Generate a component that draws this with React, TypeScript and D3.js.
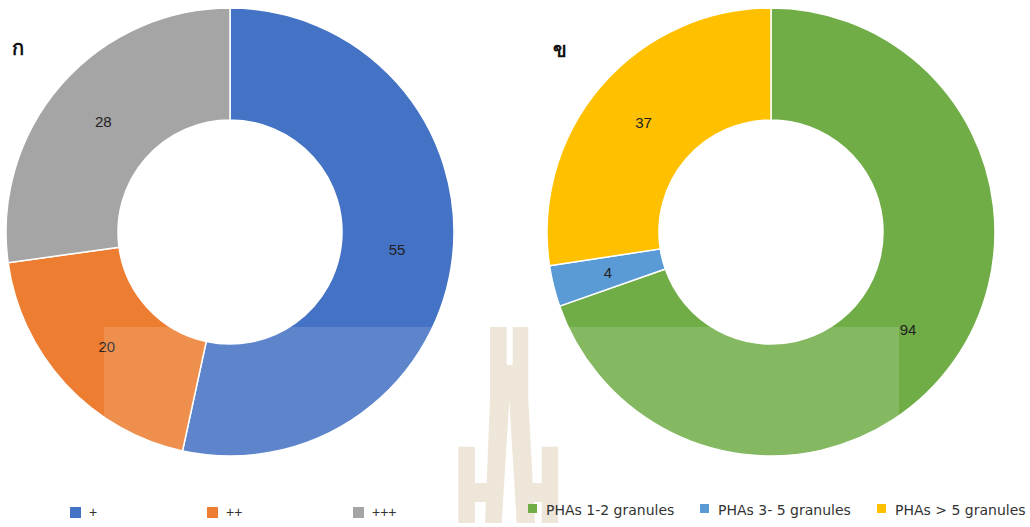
import React from "react";
import * as d3 from "d3";

const leftCategories = ["+", "++", "+++"];
const leftValues = [55, 20, 28];
const leftColors = ["#4472C4", "#ED7D31", "#A5A5A5"];

const rightCategories = ["PHAs 1-2 granules", "PHAs 3- 5 granules", "PHAs > 5 granules"];
const rightValues = [94, 4, 37];
const rightColors = ["#70AD47", "#5B9BD5", "#FFC000"];

const panelTitles = ["ก", "ข"];

type DonutProps = { cx: number; cy: number; values: number[]; colors: string[] };

function Donut({ cx, cy, values, colors }: DonutProps) {
  const pie = d3.pie<number>().sort(null).value((d) => d)(values);
  const arc = d3.arc<d3.PieArcDatum<number>>().innerRadius(112).outerRadius(224);
  return (
    <g transform={`translate(${cx},${cy})`}>
      {pie.map((p, i) => (
        <path key={i} d={arc(p) || ""} fill={colors[i]} stroke="#fff" strokeWidth={1.5} />
      ))}
      {pie.map((p, i) => {
        const [x, y] = arc.centroid(p);
        return (
          <text key={"l" + i} x={x} y={y} textAnchor="middle" dominantBaseline="central"
            fontFamily="'Liberation Sans', Arial, sans-serif" fontSize={15} fill="#222">
            {values[i]}
          </text>
        );
      })}
    </g>
  );
}

export default function App() {
  const leftLegendX = [70, 207, 353];
  const rightLegendX = [528, 700, 877];
  return (
    <svg width={1030} height={527} style={{ position: "absolute", left: 0, top: 0, background: "#fff" }}>
      <rect x={0} y={0} width={1030} height={527} fill="#fff" />
      <Donut cx={230} cy={232} values={leftValues} colors={leftColors} />
      <Donut cx={771} cy={232} values={rightValues} colors={rightColors} />
      <text x={12} y={55} fontFamily="'Noto Sans', 'DejaVu Sans', sans-serif" fontSize={20} fontWeight={600} fill="#111">{panelTitles[0]}</text>
      <text x={553} y={57} fontFamily="'Noto Sans', 'DejaVu Sans', sans-serif" fontSize={20} fontWeight={600} fill="#111">{panelTitles[1]}</text>

      {/* watermark overlay */}
      <rect x={104} y={327} width={795} height={140} fill="#fff" opacity={0.14} />
      <g fill="#EEE6D8">
        <path d="M490,327 L506.7,327 L506.7,365 L512.7,365 L512.7,327 L528.3,327 L528.3,400 L535,523 L516.7,523 L509.3,400 L501.7,523 L485,523 L490,400 Z" />
        <rect x={458.3} y={446.7} width={16.7} height={76.3} />
        <rect x={474} y={483} width={13} height={19} />
        <rect x={541.7} y={446.7} width={16.6} height={76.3} />
        <rect x={533} y={483} width={10} height={19} />
      </g>

      {leftCategories.map((c, i) => (
        <g key={c}>
          <rect x={leftLegendX[i]} y={507} width={11} height={11} fill={leftColors[i]} />
          <text x={leftLegendX[i] + 19} y={517} fontFamily="'Liberation Sans', Arial, sans-serif" fontSize={14} fill="#333">{c}</text>
        </g>
      ))}
      {rightCategories.map((c, i) => (
        <g key={c}>
          <rect x={rightLegendX[i]} y={504} width={9} height={9} fill={rightColors[i]} />
          <text x={rightLegendX[i] + 18} y={515} fontFamily="'DejaVu Sans', Verdana, sans-serif" fontSize={14} fill="#333">{c}</text>
        </g>
      ))}
    </svg>
  );
}
